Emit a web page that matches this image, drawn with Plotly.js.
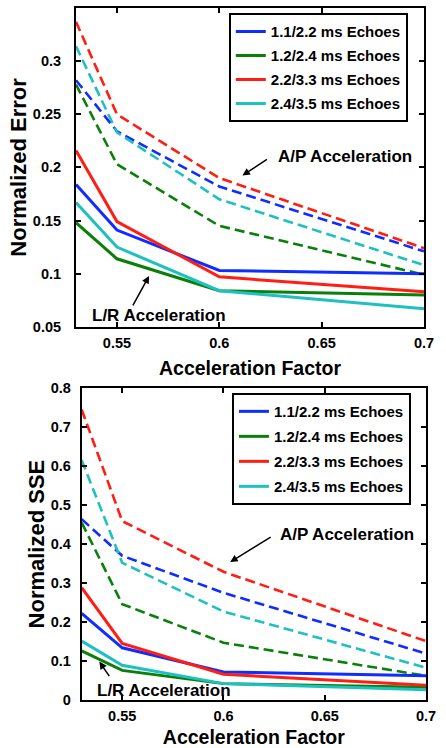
<!DOCTYPE html>
<html>
<head>
<meta charset="utf-8">
<script src="https://cdn.plot.ly/plotly-3.0.1.min.js"></script>
<style>html,body{margin:0;padding:0;background:#fff;}#chart{width:446px;height:748px;}</style>
</head>
<body>
<div id="chart"></div>
<script>
// ---- data ----
const accelFactor = [0.53, 0.55, 0.6, 0.7];
const seriesNames = ['1.1/2.2 ms Echoes', '1.2/2.4 ms Echoes', '2.2/3.3 ms Echoes', '2.4/3.5 ms Echoes'];
const seriesColors = ['rgb(15,45,255)', 'rgb(10,128,10)', 'rgb(255,30,20)', 'rgb(30,192,192)'];

// Normalized Error, L/R acceleration (solid)
const errLR_11 = [0.184, 0.141, 0.103, 0.100];
const errLR_12 = [0.148, 0.114, 0.084, 0.080];
const errLR_22 = [0.216, 0.149, 0.097, 0.083];
const errLR_24 = [0.167, 0.125, 0.084, 0.067];
// Normalized Error, A/P acceleration (dashed)
const errAP_11 = [0.282, 0.234, 0.182, 0.121];
const errAP_12 = [0.278, 0.203, 0.145, 0.099];
const errAP_22 = [0.337, 0.250, 0.190, 0.124];
const errAP_24 = [0.314, 0.233, 0.170, 0.108];
// Normalized SSE, L/R acceleration (solid)
const sseLR_11 = [0.222, 0.134, 0.072, 0.062];
const sseLR_12 = [0.126, 0.076, 0.042, 0.033];
const sseLR_22 = [0.288, 0.145, 0.066, 0.038];
const sseLR_24 = [0.151, 0.089, 0.042, 0.026];
// Normalized SSE, A/P acceleration (dashed)
const sseAP_11 = [0.464, 0.370, 0.275, 0.119];
const sseAP_12 = [0.455, 0.246, 0.147, 0.062];
const sseAP_22 = [0.745, 0.459, 0.329, 0.151];
const sseAP_24 = [0.615, 0.352, 0.227, 0.083];

const xTickVals = [0.55, 0.6, 0.65, 0.7];
const xTickText = ['0.55', '0.6', '0.65', '0.7'];
const errTickVals = [0.05, 0.1, 0.15, 0.2, 0.25, 0.3];
const errTickText = ['0.05', '0.1', '0.15', '0.2', '0.25', '0.3'];
const sseTickVals = [0, 0.1, 0.2, 0.3, 0.4, 0.5, 0.6, 0.7, 0.8];
const sseTickText = ['0', '0.1', '0.2', '0.3', '0.4', '0.5', '0.6', '0.7', '0.8'];

// ---- traces ----
const errLR = [errLR_11, errLR_12, errLR_22, errLR_24];
const errAP = [errAP_11, errAP_12, errAP_22, errAP_24];
const sseLR = [sseLR_11, sseLR_12, sseLR_22, sseLR_24];
const sseAP = [sseAP_11, sseAP_12, sseAP_22, sseAP_24];

const traces = [];
function addSet(apSets, lrSets, xa, ya, legendId, gp) {
  apSets.forEach((ys, i) => traces.push({
    x: accelFactor, y: ys, xaxis: xa, yaxis: ya, type: 'scatter', mode: 'lines',
    line: {color: seriesColors[i], width: 2.6, dash: '10px,5px'},
    showlegend: false, hoverinfo: 'skip'
  }));
  lrSets.forEach((ys, i) => traces.push({
    x: accelFactor, y: ys, xaxis: xa, yaxis: ya, type: 'scatter', mode: 'lines',
    name: seriesNames[i], legend: legendId, legendgroup: gp + i,
    line: {color: seriesColors[i], width: 3}
  }));
}
addSet(errAP, errLR, 'x', 'y', 'legend', 'a');
addSet(sseAP, sseLR, 'x2', 'y2', 'legend2', 'b');

const FONT = 'Liberation Sans, Arial, Helvetica, sans-serif';
const tickFont = {family: FONT, size: 14.5, color: '#000', weight: 'bold'};
function axisBase(extra) {
  return Object.assign({
    ticks: 'inside', ticklen: 5, tickwidth: 2, tickcolor: '#000',
    mirror: 'ticks', showline: true, linewidth: 2, linecolor: '#000',
    showgrid: false, zeroline: false, automargin: false, fixedrange: true,
    tickfont: tickFont
  }, extra);
}
const legendBase = {
  bordercolor: '#000', borderwidth: 2, bgcolor: '#fff',
  font: {family: FONT, size: 15, color: '#000', weight: 'bold'},
  xanchor: 'right', yanchor: 'top', traceorder: 'grouped'
};
const annFont = {family: FONT, size: 17, color: '#000', weight: 'bold'};

const layout = {
  width: 446, height: 748,
  margin: {l: 76, r: 20, t: 8, b: 48.3, pad: 0},
  paper_bgcolor: '#fff', plot_bgcolor: '#fff',
  font: {family: FONT, color: '#000'},
  showlegend: true,
  xaxis: axisBase({domain: [0, 0.9943], anchor: 'y', range: [0.53, 0.7],
    tickvals: xTickVals, ticktext: xTickText, ticklabelstandoff: 2,
    title: {text: 'Acceleration Factor', font: {family: FONT, size: 19.5, weight: 'bold'}, standoff: 11}}),
  yaxis: axisBase({domain: [0.5393, 1], anchor: 'x', range: [0.05, 0.35],
    tickvals: errTickVals, ticktext: errTickText, ticklabelstandoff: 10,
    title: {text: 'Normalized Error', font: {family: FONT, size: 22, weight: 'bold'}, standoff: 0}}),
  xaxis2: axisBase({domain: [0.0163, 1], anchor: 'y2', range: [0.53, 0.7],
    tickvals: xTickVals, ticktext: xTickText, ticklabelstandoff: 2,
    title: {text: 'Acceleration Factor', font: {family: FONT, size: 19.5, weight: 'bold'}, standoff: 10}}),
  yaxis2: axisBase({domain: [0, 0.4506], anchor: 'x2', range: [0, 0.8],
    tickvals: sseTickVals, ticktext: sseTickText, ticklabelstandoff: 6,
    title: {text: 'Normalized SSE', font: {family: FONT, size: 22, weight: 'bold'}, standoff: 0}}),
  legend: Object.assign({x: 0.948, y: 0.9924, tracegroupgap: 1.5}, legendBase),
  legend2: Object.assign({x: 0.957, y: 0.4435, tracegroupgap: 2.5}, legendBase),
  annotations: [
    {xref: 'x', yref: 'y', x: 0.6615, y: 0.2105, text: 'A/P Acceleration', showarrow: false, font: annFont},
    {xref: 'x', yref: 'y', x: 0.6113, y: 0.1924, text: '', showarrow: true, ax: 26, ay: -17,
      arrowhead: 2, arrowsize: 1, arrowwidth: 1.5, arrowcolor: '#000'},
    {xref: 'x', yref: 'y', x: 0.5706, y: 0.0604, text: 'L/R Acceleration', showarrow: false, font: annFont},
    {xref: 'x', yref: 'y', x: 0.5657, y: 0.0979, text: '', showarrow: true, ax: -17, ay: 31,
      arrowhead: 2, arrowsize: 1, arrowwidth: 1.5, arrowcolor: '#000'},
    {xref: 'x2', yref: 'y2', x: 0.661, y: 0.4249, text: 'A/P Acceleration', showarrow: false, font: annFont},
    {xref: 'x2', yref: 'y2', x: 0.6033, y: 0.3538, text: '', showarrow: true, ax: 42, ay: -26,
      arrowhead: 2, arrowsize: 1, arrowwidth: 1.5, arrowcolor: '#000'},
    {xref: 'x2', yref: 'y2', x: 0.5708, y: 0.0249, text: 'L/R Acceleration', showarrow: false, font: annFont},
    {xref: 'x2', yref: 'y2', x: 0.5387, y: 0.0985, text: '', showarrow: true, ax: 11, ay: 16,
      arrowhead: 2, arrowsize: 1, arrowwidth: 1.5, arrowcolor: '#000'}
  ]
};

Plotly.newPlot('chart', traces, layout, {displayModeBar: false, staticPlot: true});
</script>
</body>
</html>
